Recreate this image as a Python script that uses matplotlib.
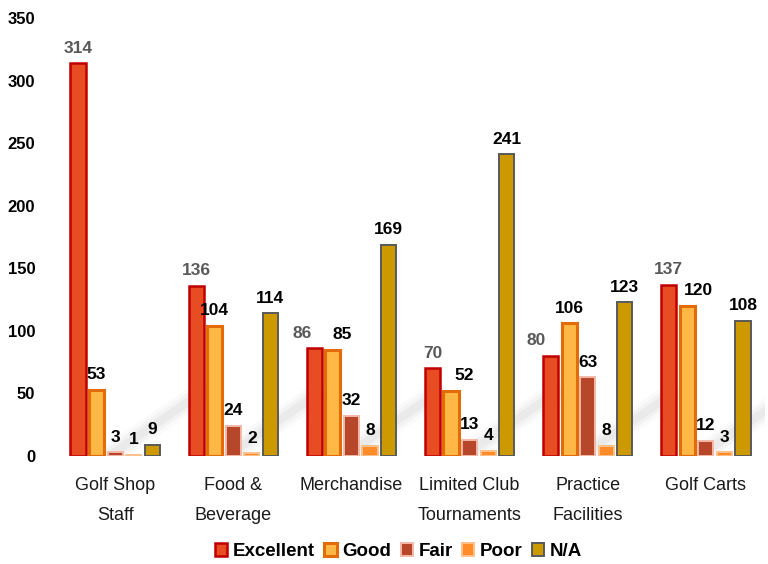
import numpy as np
import matplotlib.pyplot as plt

categories = ["Golf Shop\nStaff", "Food &\nBeverage", "Merchandise",
              "Limited Club\nTournaments", "Practice\nFacilities", "Golf Carts"]
series = ["Excellent", "Good", "Fair", "Poor", "N/A"]
excellent = [314, 136, 86, 70, 80, 137]
good = [53, 104, 85, 52, 106, 120]
fair = [3, 24, 32, 13, 63, 12]
poor = [1, 2, 8, 4, 8, 3]
na = [9, 114, 169, 241, 123, 108]
values = [excellent, good, fair, poor, na]

fills = ["#E84C22", "#FFB845", "#B7472A", "#FF8C28", "#CC9900"]
edges = ["#C00000", "#E36C09", "#F4B9A8", "#FFC08A", "#595959"]
edge_widths = [1.8, 2.2, 1.4, 1.4, 1.4]
label_colors = ["#595959", "black", "black", "black", "black"]

# labels nudged sideways to avoid overlapping (series index, category index): dx
label_nudge = {(0, 2): -0.10, (1, 2): 0.08, (1, 3): 0.11,
               (0, 4): -0.12, (1, 5): 0.09}

plt.rcParams['font.family'] = ['Liberation Sans', 'DejaVu Sans']

fig = plt.figure(figsize=(7.68, 5.64), dpi=100)
ax = fig.add_axes([0.073, 0.1915, 0.923, 0.7766])

x = np.arange(len(categories))
pitch = 0.157
width = 0.128

# faint diagonal shadow streaks behind each group
for i in x:
    for lw, a in [(16, 0.035), (11, 0.05), (6, 0.07)]:
        ax.plot([i - 0.02, i + 0.72], [2, 50], color='#7f7f7f', lw=lw,
                alpha=a, solid_capstyle='round', zorder=1)

for i, (name, vals) in enumerate(zip(series, values)):
    pos = x + (i - 2) * pitch
    ax.bar(pos, vals, width, color=fills[i], edgecolor=edges[i],
           linewidth=edge_widths[i], label=name, zorder=3)
    for j, (px, v) in enumerate(zip(pos, vals)):
        dx = label_nudge.get((i, j), 0)
        ax.text(px + dx, v + 6, str(v), ha='center', va='bottom',
                fontsize=12.5, fontweight='bold', color=label_colors[i],
                zorder=4)

ax.set_xlim(-0.5, 5.5)
ax.set_ylim(0, 350)
ax.set_yticks(range(0, 351, 50))
ax.set_xticks(x)
ax.set_xticklabels(categories, fontsize=13, linespacing=2.0, va='top',
                   color='#1a1a1a')
ax.tick_params(axis='both', length=0)
ax.tick_params(axis='x', pad=15)
ax.tick_params(axis='y', pad=15)
for lab in ax.get_yticklabels():
    lab.set_fontweight('bold')
    lab.set_fontsize(12)
for s in ax.spines.values():
    s.set_visible(False)

leg = fig.legend(loc='center', bbox_to_anchor=(0.519, 0.022), ncol=5,
                 frameon=False, handlelength=0.65, handleheight=0.65,
                 handletextpad=0.3, columnspacing=0.5,
                 prop={'weight': 'bold', 'size': 13.5})

fig.savefig('out.png', dpi=100)
